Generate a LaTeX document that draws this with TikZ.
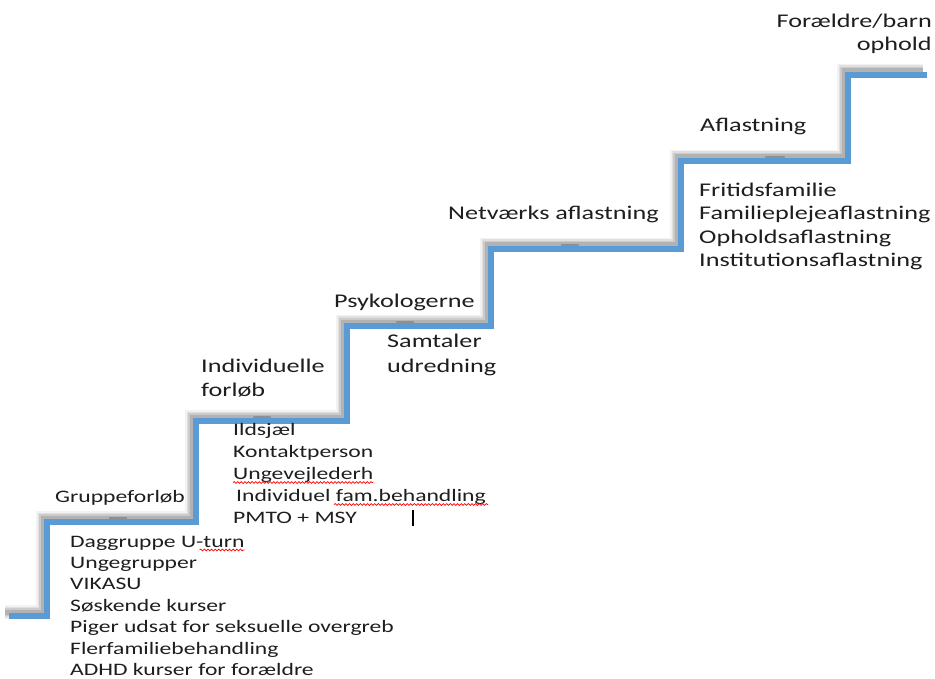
\documentclass[tikz,border=0pt]{standalone}
\usepackage{fontspec}
\setmainfont{Carlito}[FakeStretch=1.35]
\usetikzlibrary{calc,decorations.pathmorphing}
\definecolor{stairblue}{HTML}{5B9BD5}
\definecolor{txt}{HTML}{1E1E1E}
\begin{document}
\begin{tikzpicture}[x=1pt,y=-1pt,
  lbl/.style={anchor=base west,inner sep=0pt,text=txt,font=\fontsize{19.4}{23.7}\selectfont},
  lblr/.style={lbl,anchor=base east},
  itm/.style={anchor=base west,inner sep=0pt,text=txt,font=\fontsize{17.5}{21.4}\selectfont},
  stair/.style={draw=stairblue,line width=6pt,line join=miter,line cap=butt},
  shade/.style={draw=black,line join=miter,line cap=butt,transform canvas={shift={(-4pt,4pt)}}},
  treadmark/.style={draw=black!60,line width=2.5pt,opacity=0.45,line cap=round},
  spell/.style={draw=red,line width=0.7pt,decorate,decoration={snake,amplitude=0.9pt,segment length=3.6pt}},
  cursor/.style={draw=black,line width=1.4pt}]
\useasboundingbox (0,0) rectangle (935,679);
\fill[white] (0,0) rectangle (935,679);

% corner points of the staircase
\coordinate (s0) at (9,616);
\coordinate (s1) at (47,616);
\coordinate (s2) at (47,522);
\coordinate (s3) at (196,522);
\coordinate (s4) at (196,421);
\coordinate (s5) at (347,421);
\coordinate (s6) at (347,326);
\coordinate (s7) at (491,326);
\coordinate (s8) at (491,249);
\coordinate (s9) at (681,249);
\coordinate (s10) at (681,161);
\coordinate (s11) at (848,161);
\coordinate (s12) at (848,75);
\coordinate (s13) at (927,75);

% soft drop shadow up and to the left of the staircase
\foreach \w/\o in {14/0.05,11/0.07,8/0.09,5/0.12}{
  \draw[shade,line width=\w pt,opacity=\o]
    (s0)--(s1)--(s2)--(s3)--(s4)--(s5)--(s6)--(s7)--(s8)--(s9)--(s10)--(s11)--(s12)--(s13);
}
% small shadow marks on the treads
\draw[treadmark] (110,518) -- (126,518);
\draw[treadmark] (254,417) -- (270,417);
\draw[treadmark] (397,322) -- (413,322);
\draw[treadmark] (562,245) -- (578,245);
\draw[treadmark] (766,157) -- (784,157);

% the staircase
\draw[stair] (s0)--(s1)--(s2)--(s3)--(s4)--(s5)--(s6)--(s7)--(s8)--(s9)--(s10)--(s11)--(s12)--(s13);

% step labels
\node[itm] (gruppe) at (55,502) {Gruppeforløb};
\node[lbl] (indiv1) at (201,372) {Individuelle};
\node[lbl] (indiv2) at (201,396) {forløb};
\node[lbl] (psyk) at (334,308) {Psykologerne};
\node[lbl] (netv) at (448,220) {Netværks aflastning};
\node[lbl] (afl) at (700,132) {Aflastning};
\node[lblr] (foraeldre) at (932,28) {Forældre/barn};
\node[lblr] (ophold) at (932,51) {ophold};

% offers under each step
\node[lbl] (samt1) at (387,348) {Samtaler};
\node[lbl] (samt2) at (387,372) {udredning};

\foreach \t [count=\i] in {Fritidsfamilie,Familieplejeaflastning,Opholdsaflastning,Institutionsaflastning}
  \node[lbl] (r\i) at (699,196.5+23.5*\i-23.5) {\t};

\node[itm] (m1) at (233,435) {Ildsjæl};
\node[itm] (m2) at (233,457.5) {Kontaktperson};
\node[itm] (m3) at (233,479.5) {Ungevejlederh};
\node[itm] (m4) at (236,501.5) {Individuel fam.behandling};
\node[itm] (m5) at (233,523) {PMTO + MSY};

\foreach \t [count=\i] in {Daggruppe U-turn,Ungegrupper,VIKASU,Søskende kurser,Piger udsat for seksuelle overgreb,Flerfamiliebehandling,ADHD kurser for forældre}
  \node[itm] (b\i) at (70,547+21.4*\i-21.4) {\t};

% spell-check underlines and text cursor
\draw[spell] ($(b1.base east)+(-45,3)$) -- ($(b1.base east)+(0,3)$);
\draw[spell] ($(m3.base west)+(0,3)$) -- ($(m3.base east)+(0,3)$);
\draw[spell] ($(m4.base east)+(-152,3)$) -- ($(m4.base east)+(2,3)$);
\coordinate (cur) at (413,510);
\draw[cursor] (cur) -- ++(0,16);
\end{tikzpicture}
\end{document}
